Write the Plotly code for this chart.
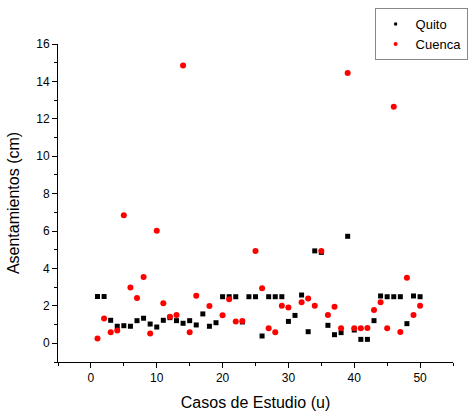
import plotly.graph_objects as go

casos = list(range(1, 51))

quito = [2.5, 2.5, 1.23, 0.91, 0.94, 0.91, 1.21, 1.34, 1.03, 0.87,
         1.23, 1.37, 1.21, 1.07, 1.21, 0.98, 1.57, 0.91, 1.10, 2.49,
         2.49, 2.49, 1.14, 2.49, 2.49, 0.39, 2.49, 2.49, 2.49, 1.17,
         1.49, 2.58, 0.62, 4.94, 4.86, 0.96, 0.46, 0.57, 5.72, 0.71,
         0.21, 0.21, 1.21, 2.53, 2.49, 2.49, 2.49, 1.05, 2.53, 2.49]

cuenca = [0.25, 1.32, 0.59, 0.68, 6.84, 2.98, 2.42, 3.55, 0.52, 6.02,
          2.14, 1.42, 1.51, 14.85, 0.59, 2.54, None, 1.99, None, 1.50,
          2.35, 1.17, 1.19, None, 4.94, 2.94, 0.80, 0.59, 2.01, 1.92,
          None, 2.19, 2.40, 2.01, 4.94, 1.51, 1.96, 0.80, 14.45, 0.80,
          0.80, 0.82, 1.78, 2.19, 0.80, 12.65, 0.60, 3.51, 1.51, 2.01]

font = "Liberation Sans, Arial, sans-serif"

fig = go.Figure()
fig.add_trace(go.Scatter(x=casos, y=quito, mode="markers", name="Quito",
                         marker=dict(symbol="square", size=5, color="black"),
                         showlegend=False))
fig.add_trace(go.Scatter(x=casos, y=cuenca, mode="markers", name="Cuenca",
                         marker=dict(symbol="circle", size=6, color="red"),
                         showlegend=False))
# legend entries with small markers
fig.add_trace(go.Scatter(x=[None], y=[None], mode="markers", name="Quito",
                         marker=dict(symbol="square", size=3, color="black")))
fig.add_trace(go.Scatter(x=[None], y=[None], mode="markers", name="Cuenca",
                         marker=dict(symbol="circle", size=4, color="red")))

axis_common = dict(showgrid=False, zeroline=False, showline=True, linecolor="black",
                   linewidth=1, ticks="outside", ticklen=5, tickwidth=1, tickcolor="black",
                   tickfont=dict(family=font, size=12, color="black"))

fig.update_xaxes(range=[-5, 55], dtick=10, tick0=0,
                 minor=dict(dtick=5, ticks="outside", ticklen=3, tickcolor="black"),
                 title=dict(text="Casos de Estudio (u)", font=dict(family=font, size=16, color="black"),
                            standoff=12),
                 **axis_common)
fig.update_yaxes(range=[-1, 16], dtick=2, tick0=0,
                 minor=dict(dtick=1, ticks="outside", ticklen=3, tickcolor="black"),
                 title=dict(text="Asentamientos (cm)", font=dict(family=font, size=16, color="black"),
                            standoff=12),
                 **axis_common)

fig.update_layout(
    width=470, height=416,
    margin=dict(l=58, r=17, t=44, b=54, autoexpand=False),
    plot_bgcolor="white", paper_bgcolor="white",
    legend=dict(x=1.037, y=1.113, xanchor="right", yanchor="top",
                bordercolor="#888888", borderwidth=1, bgcolor="white",
                font=dict(family=font, size=13, color="black"),
                tracegroupgap=0, itemwidth=30),
)

fig.write_html("out.html")
